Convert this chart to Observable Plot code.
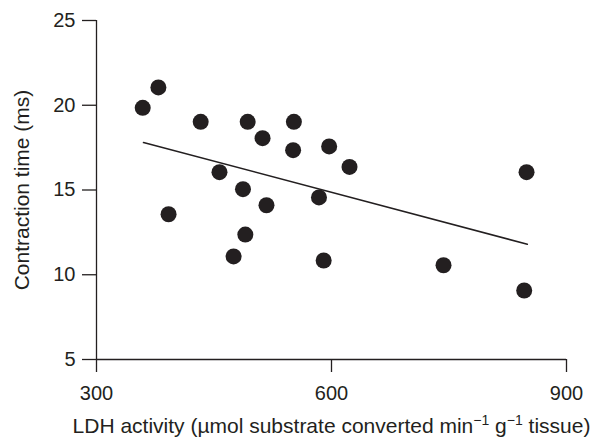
<!DOCTYPE html>
<html><head><meta charset="utf-8">
<script src="https://cdn.jsdelivr.net/npm/d3@7"></script>
<script src="https://cdn.jsdelivr.net/npm/@observablehq/plot@0.6"></script>
<style>body{margin:0;background:#fff} #chart{width:600px;height:440px}</style>
</head><body><div id="chart"></div>
<script>
// Data
const ldhActivity = [359, 379, 392, 433, 457, 475, 487, 490, 493, 512, 517, 551, 552, 584, 590, 597, 623, 743, 846, 849];
const contractionTime = [19.85, 21.05, 13.57, 19.02, 16.05, 11.08, 15.05, 12.37, 19.02, 18.06, 14.1, 17.35, 19.02, 14.56, 10.84, 17.57, 16.36, 10.56, 9.07, 16.05];
const fitX = [360, 850];
const fitY = [17.8, 11.8];
const xTicks = [300, 600, 900];
const yTicks = [5, 10, 15, 20, 25];
const xLabelParts = [["LDH activity (µmol substrate converted min", false], ["−1", true], [" g", false], ["−1", true], [" tissue)", false]];
const yLabel = "Contraction time (ms)";

const ink = "#231f20";
const points = ldhActivity.map((x, i) => ({x, y: contractionTime[i]}));
const fit = fitX.map((x, i) => ({x, y: fitY[i]}));
const xLabel = xLabelParts.map(d => d[0]).join("");

const plot = Plot.plot({
  width: 600, height: 440,
  marginLeft: 96, marginRight: 34, marginTop: 20, marginBottom: 81,
  style: {fontFamily: "'Liberation Sans', Arial, sans-serif", fontSize: "20px", color: ink, background: "#fff"},
  x: {domain: [300, 900]},
  y: {domain: [5, 25]},
  marks: [
    Plot.ruleY([5], {stroke: ink, strokeWidth: 1.3}),
    Plot.ruleX([300], {stroke: ink, strokeWidth: 1.3}),
    Plot.axisX(xTicks, {tickSize: 13, tickPadding: 13, strokeWidth: 1.3, fontSize: 20, label: null}),
    Plot.axisX({ticks: [], tickSize: 0, fontSize: 21, label: xLabel, labelAnchor: "center", labelOffset: 73, labelArrow: "none"}),
    Plot.axisY(yTicks, {tickSize: 14, tickPadding: 7, strokeWidth: 1.3, fontSize: 20, label: null}),
    Plot.axisY({ticks: [], tickSize: 0, fontSize: 21, label: yLabel, labelAnchor: "center", labelOffset: 82, labelArrow: "none"}),
    Plot.line(fit, {x: "x", y: "y", stroke: ink, strokeWidth: 1.5}),
    Plot.dot(points, {x: "x", y: "y", r: 8, fill: ink, stroke: "none"})
  ]
});
document.getElementById("chart").appendChild(plot);

// superscripts in x label
const t = d3.select(plot).selectAll("g[aria-label='x-axis label'] text");
t.each(function() {
  const el = d3.select(this);
  el.text(null);
  xLabelParts.forEach(([s, sup]) => {
    const ts = el.append("tspan").text(s);
    if (sup) ts.attr("font-size", "14px").attr("baseline-shift", "super");
  });
});
</script>
</body></html>
